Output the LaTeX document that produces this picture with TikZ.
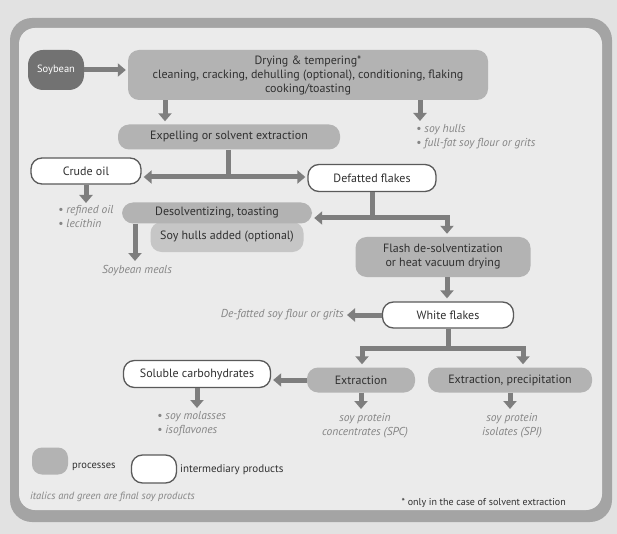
\documentclass[tikz,border=0pt]{standalone}
\usepackage{fontspec}
\setmainfont{PT Sans}
\usetikzlibrary{arrows.meta}
\definecolor{pagebg}{HTML}{E2E2E2}
\definecolor{panelc}{HTML}{EBEBEB}
\definecolor{framec}{HTML}{A4A4A4}
\definecolor{procc}{HTML}{B3B3B3}
\definecolor{procl}{HTML}{C6C6C6}
\definecolor{arrowc}{HTML}{7E7E7E}
\definecolor{soyc}{HTML}{727272}
\definecolor{edgec}{HTML}{5A5A5A}
\definecolor{txtc}{HTML}{303030}
\definecolor{finc}{HTML}{858585}
\begin{document}
\begin{tikzpicture}[x=1pt,y=-1pt,
  procbox/.style={fill=procc, rounded corners=11pt, text=txtc, font=\fontsize{12}{14}\selectfont, align=center, inner sep=0pt},
  interbox/.style={fill=white, draw=edgec, line width=1.3pt, rounded corners=11pt, text=txtc, font=\fontsize{12}{14}\selectfont, align=center, inner sep=0pt},
  finaltxt/.style={text=finc, font=\itshape\fontsize{11.5}{14}\selectfont, inner sep=0pt},
  flow/.style={draw=arrowc, line width=5pt, -{Triangle[width=13pt,length=8pt]}},
  dflow/.style={draw=arrowc, line width=5pt, {Triangle[width=13pt,length=8pt]}-{Triangle[width=13pt,length=8pt]}},
  bar/.style={draw=arrowc, line width=5pt},
  plain/.style={text=txtc, inner sep=0pt},
]
\useasboundingbox (0,0) rectangle (617,534);
\fill[pagebg] (0,0) rectangle (617,534);
\fill[framec, rounded corners=22pt] (10,18) rectangle (612,522);
\fill[panelc, rounded corners=16pt] (19,28) rectangle (602,510);

% nodes
\node[procbox, fill=soyc, text=white, minimum width=56pt, minimum height=40pt, rounded corners=15pt, font=\fontsize{10.5}{12}\selectfont] (soy) at (56,70) {Soybean};
\node[procbox, minimum width=360pt, minimum height=50pt] (dry) at (308,75) {Drying \& tempering*\\cleaning, cracking, dehulling (optional), conditioning, flaking\\cooking/toasting};
\node[procbox, minimum width=222pt, minimum height=25pt] (exp) at (229,137) {Expelling or solvent extraction};
\node[interbox, minimum width=110pt, minimum height=26pt] (crude) at (86,171) {Crude oil};
\node[interbox, minimum width=128pt, minimum height=27pt] (defat) at (372,178) {Defatted flakes};
\node[procbox, fill=procl, minimum width=153pt, minimum height=30pt] (hulls) at (227,237) {Soy hulls added (optional)};
\node[procbox, minimum width=190pt, minimum height=21pt] (desolv) at (217,213) {Desolventizing, toasting};
\node[procbox, minimum width=175pt, minimum height=40pt] (flash) at (443,257) {Flash de-solventization\\or heat vacuum drying};
\node[interbox, minimum width=131pt, minimum height=26pt] (white) at (448,315) {White flakes};
\node[interbox, minimum width=147pt, minimum height=27pt] (solub) at (197,374) {Soluble carbohydrates};
\node[procbox, minimum width=108pt, minimum height=25pt] (extr) at (361,380) {Extraction};
\node[procbox, minimum width=164pt, minimum height=25pt] (extp) at (510,380) {Extraction, precipitation};

% final products
\node[finaltxt, anchor=north west, align=left] (hullt) at (416,124) {• soy hulls\\• full-fat soy flour or grits};
\node[finaltxt, anchor=north west, align=left] (oilt) at (58,205) {• refined oil\\• lecithin};
\node[finaltxt, anchor=north] (mealt) at (137,265) {Soybean meals};
\node[finaltxt, anchor=east] (deflt) at (344,315) {De-fatted soy flour or grits};
\node[finaltxt, anchor=north west, align=left] (molt) at (157,411) {• soy molasses\\• isoflavones};
\node[finaltxt, anchor=north, align=center] (spct) at (365,413) {soy protein\\concentrates (SPC)};
\node[finaltxt, anchor=north, align=center] (spit) at (512,413) {soy protein\\isolates (SPI)};

% connectors
\coordinate (c1) at (165,0);
\coordinate (c2) at (420,121);
\coordinate (j1) at (228,177);
\coordinate (c3) at (86,203);
\coordinate (j2) at (372,218);
\coordinate (j3) at (447,218);
\coordinate (c4) at (135,261);
\coordinate (j4) at (448,348);
\coordinate (j5) at (362,348);
\coordinate (j6) at (523,348);
\coordinate (c5) at (197,408);

\draw[flow, shorten >=2pt] (soy.east) -- (dry.west |- soy.east);
\draw[flow, shorten >=3pt] (dry.south -| c1) -- (exp.north -| c1);
\draw[flow] (dry.south -| c2) -- (c2);
\draw[bar] (exp.south -| j1) -- (j1);
\draw[dflow, shorten <=2pt, shorten >=2pt] (crude.east |- j1) -- (defat.west |- j1);
\draw[flow] (crude.south) -- (c3);
\draw[bar] (defat.south -| j2) -- (j2);
\draw[dflow, shorten <=2pt, shorten >=3pt] (desolv.east |- j3) -- (j3) -- (flash.north -| j3);
\draw[flow] (desolv.south -| c4) -- (c4);
\draw[flow, shorten >=3pt] (flash.south -| j3) -- (white.north -| j3);
\draw[flow, shorten >=3pt] (white.west) -- (deflt.east);
\draw[bar] (white.south) -- (j4);
\draw[dflow, shorten <=3pt, shorten >=3pt] (extr.north -| j5) -- (j5) -- (j6) -- (extp.north -| j6);
\draw[flow, shorten >=2pt] (extr.west) -- (solub.east |- extr.west);
\draw[flow] (solub.south) -- (c5);
\draw[flow, shorten >=4pt] (extr.south) -- (spct.north -| extr.south);
\draw[flow, shorten >=4pt] (extp.south) -- (spit.north -| extp.south);

% legend
\node[procbox, minimum width=36pt, minimum height=27pt, rounded corners=10pt] (lgp) at (50,461) {};
\node[plain, anchor=west, font=\fontsize{10.5}{12}\selectfont] (lgpt) at (72,467) {processes};
\node[interbox, minimum width=45pt, minimum height=28pt] (lgi) at (154,469) {};
\node[plain, anchor=west, font=\fontsize{11}{12}\selectfont] (lgit) at (180,470) {intermediary products};
\node[finaltxt, anchor=west, font=\itshape\fontsize{10.5}{12}\selectfont] (note1) at (30,497) {italics and green are final soy products};
\node[plain, anchor=east, font=\fontsize{10}{12}\selectfont] (note2) at (566,503) {* only in the case of solvent extraction};
\end{tikzpicture}
\end{document}
